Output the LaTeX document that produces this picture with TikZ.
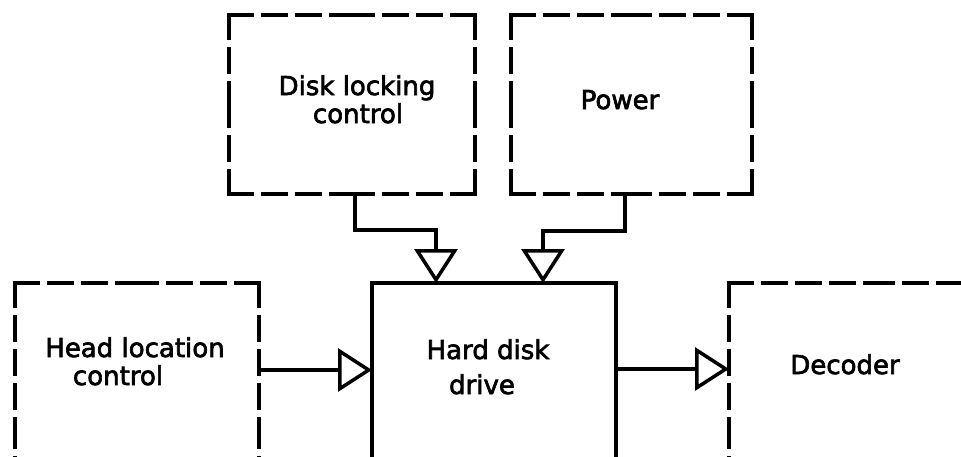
\documentclass[tikz,border=0pt]{standalone}
\usepackage{fontspec}
\setmainfont{DejaVu Sans}[FakeBold=2.5]
\usetikzlibrary{arrows.meta}
\tikzset{
  boxshape/.style={rectangle, draw=none, outer sep=0pt, inner sep=0pt},
  solidbox/.style={rectangle, draw=black, line width=3.5pt, outer sep=0pt, inner sep=0pt},
  dsh/.style={line width=3.5pt, dash pattern=on 23pt off 11pt, line cap=rect},
  conn/.style={line width=3.5pt, -{Triangle[open, length=34pt, width=43pt, fill=white]}},
  lbl/.style={font=\fontsize{26}{30}\selectfont, inner sep=0pt, anchor=base}
}
\begin{document}
\begin{tikzpicture}[x=1pt, y=-1pt]
\useasboundingbox (0,0) rectangle (961,456);
\clip (0,0) rectangle (961,456);
\fill[white] (0,0) rectangle (961,456);
% boxes
\node[boxshape, minimum width=246pt, minimum height=179pt] (dlc) at (352,104.5) {};
\node[boxshape, minimum width=241pt, minimum height=179pt] (pwr) at (631.5,104.5) {};
\node[boxshape, minimum width=244pt, minimum height=300pt] (hlc) at (137,433) {};
\node[solidbox, minimum width=244pt, minimum height=300pt] (hdd) at (494,433) {};
\node[boxshape, minimum width=300pt, minimum height=300pt] (dec) at (879,433) {};
\foreach \b in {dlc,pwr,hlc,dec}{
  \draw[dsh] (\b.north west) -- (\b.north);
  \draw[dsh] (\b.north east) -- (\b.north);
  \draw[dsh] (\b.south west) -- (\b.south);
  \draw[dsh] (\b.south east) -- (\b.south);
  \draw[dsh] (\b.north west) -- (\b.west);
  \draw[dsh] (\b.south west) -- (\b.west);
  \draw[dsh] (\b.north east) -- (\b.east);
  \draw[dsh] (\b.south east) -- (\b.east);
}
% labels
\node[lbl] (t1) at (357,95) {Disk locking};
\node[lbl] (t2) at (358,123) {control};
\node[lbl] (t3) at (620,109) {Power};
\node[lbl] (t4) at (135,357) {Head location};
\node[lbl] (t5) at (118,385) {control};
\node[lbl] (t6) at (488,359) {Hard disk};
\node[lbl] (t7) at (482,394) {drive};
\node[lbl] (t8) at (845,374) {Decoder};
% connectors
\coordinate (d1) at ([xshift=3pt]dlc.south);
\coordinate (d2) at ([xshift=-58pt]hdd.north);
\coordinate (p1) at ([xshift=-6.5pt]pwr.south);
\coordinate (p2) at ([xshift=49pt]hdd.north);
\draw[conn] (d1) -- ++(0,36) -| (d2);
\draw[conn] (p1) -- ++(0,37) -| (p2);
\draw[conn] ([yshift=-87pt]hlc.north east) -- ([yshift=-87pt]hdd.north west);
\draw[conn] ([yshift=-86pt]hdd.north east) -- ([yshift=-86pt]dec.north west);
\end{tikzpicture}
\end{document}
